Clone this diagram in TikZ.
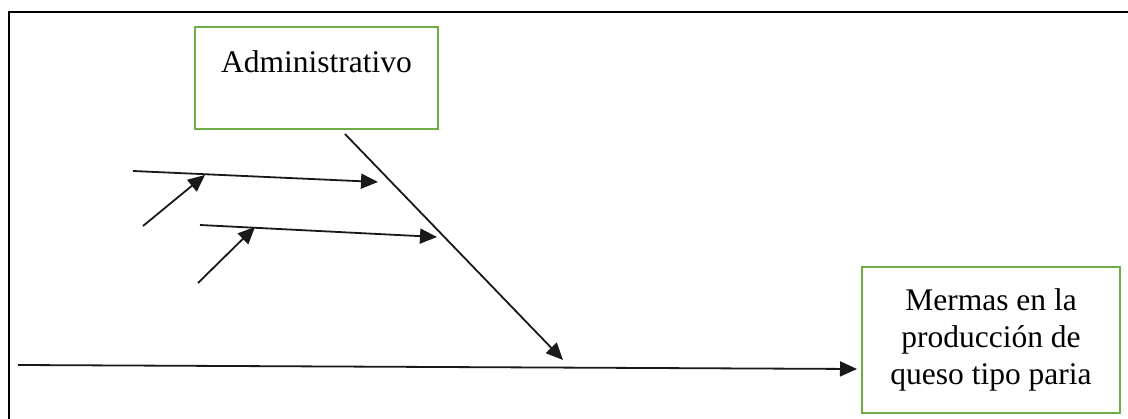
\documentclass[tikz,border=0pt]{standalone}
\usepackage{fontspec}
\setmainfont{Liberation Serif}
\usetikzlibrary{arrows.meta}
\definecolor{boxgreen}{RGB}{112,173,71}
\tikzset{
  bone/.style={line width=1.8pt, draw=black!90, -{Triangle[length=17pt,width=15pt]}},
  greenbox/.style={draw=boxgreen, line width=1.6pt, fill=white, inner sep=0pt},
  frameline/.style={line width=2.2pt, draw=black}
}
\begin{document}
\begin{tikzpicture}[x=1pt,y=-1pt]
\useasboundingbox (0,0) rectangle (1128,419);
% outer frame (top and left edges)
\draw[frameline] (9,420) -- (9,12) -- (1129,12);
% boxes
\node[greenbox, minimum width=243pt, text height=46pt, text depth=56pt,
      font=\fontsize{31.5}{37}\selectfont] (admin) at (316.5,78) {Administrativo};
\node[greenbox, minimum width=258pt, minimum height=146pt, align=center,
      font=\fontsize{31.5}{37}\selectfont] (effect) at (991,340)
      {Mermas en la\\producción de\\queso tipo paria};
% coordinates
\coordinate (s0) at (18,365);
\coordinate (s1) at (857,369);
\coordinate (d0) at (345,134);
\coordinate (d1) at (563,360);
\coordinate (u0) at (133,171);
\coordinate (u1) at (378,182);
\coordinate (l0) at (200,225);
\coordinate (l1) at (437,237);
\coordinate (us0) at (143,226);
\coordinate (us1) at (205,175);
\coordinate (ls0) at (198,283);
\coordinate (ls1) at (255,227);
% bones
\draw[bone] (s0) -- (s1);
\draw[bone] (d0) -- (d1);
\draw[bone] (u0) -- (u1);
\draw[bone] (l0) -- (l1);
\draw[bone] (us0) -- (us1);
\draw[bone] (ls0) -- (ls1);
\end{tikzpicture}
\end{document}
